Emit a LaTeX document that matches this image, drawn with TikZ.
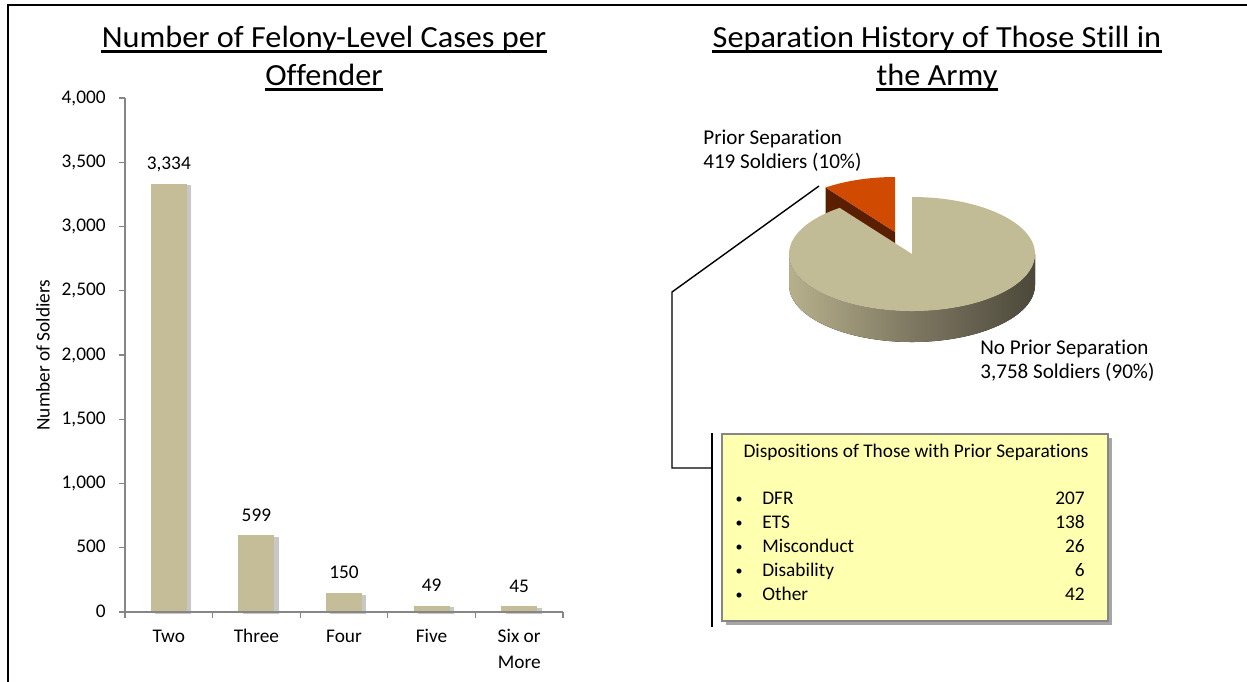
\documentclass[tikz,border=0pt]{standalone}
\usepackage{fontspec}
\setmainfont{Carlito}[Ligatures=NoCommon]
\usetikzlibrary{calc,shadows}
\definecolor{barfill}{HTML}{C4BD97}
\definecolor{axisgray}{HTML}{868686}
\definecolor{pietop}{HTML}{C2BC96}
\definecolor{sideL}{HTML}{B7B08C}
\definecolor{sideM}{HTML}{7E7862}
\definecolor{sideR}{HTML}{4C483A}
\definecolor{orangetop}{HTML}{D04A02}
\definecolor{orangeside}{HTML}{5A1E00}
\definecolor{notefill}{HTML}{FFFFB0}
\begin{document}
\begin{tikzpicture}[x=0.02cm,y=-0.02cm,
  lab/.style={font=\fontsize{11}{13}\selectfont, inner sep=0pt, text=black},
  plab/.style={font=\fontsize{12}{13.6}\selectfont, inner sep=0pt, align=left, text=black},
  ttl/.style={font=\fontsize{17.5}{20}\selectfont, inner sep=0pt, anchor=base, text=black, xscale=1.05, transform shape},
  uline/.style={line width=1.2pt, black},
  axis/.style={axisgray, line width=0.6pt},
  barstyle/.style={fill=barfill, drop shadow={shadow xshift=2.5pt, shadow yshift=-1pt, opacity=0.22, fill=black}},
  leader/.style={black, line width=0.8pt},
  notebox/.style={draw=axisgray, line width=0.6pt, fill=notefill, drop shadow={shadow xshift=2.5pt, shadow yshift=-2.5pt, opacity=0.35, fill=black}}
]
\useasboundingbox (0,0) rectangle (1247,681);
\fill[white] (0,0) rectangle (1247,681);
% frame
\draw[line width=1.4pt] (8,700) -- (8,5) -- (1260,5);

% ---------- titles ----------
\node[ttl] (t1) at (324,47) {Number of Felony-Level Cases per};
\node[ttl] (t2) at (324,85) {Offender};
\node[ttl] (t3) at (937,47) {Separation History of Those Still in};
\node[ttl] (t4) at (937,85) {the Army};
\foreach \n in {t1,t2,t3,t4}
  \draw[uline] ($(\n.base west)+(0,4.5)$) -- ($(\n.base east)+(0,4.5)$);

% ---------- bar chart ----------
\foreach \v/\t [count=\i from 0] in {3334/{3,334},599/599,150/150,49/49,45/45} {
  \pgfmathsetmacro\cx{125+87.6*(\i+0.5)}
  \pgfmathsetmacro\bt{612-\v/4000*514}
  \fill[barstyle] (\cx-18,\bt) rectangle (\cx+18,612);
  \node[lab,anchor=base] (val\i) at (\cx,\bt-14) {\t};
}
\draw[axis] (125,98) -- (125,612) -- (563,612);
\foreach \k/\t in {0/0,1/500,2/{1,000},3/{1,500},4/{2,000},5/{2,500},6/{3,000},7/{3,500},8/{4,000}} {
  \pgfmathsetmacro\yy{612-64.25*\k}
  \draw[axis] (119,\yy) -- (125,\yy);
  \node[lab,anchor=base east] (ylab\k) at (106,\yy+5) {\t};
}
\foreach \i in {0,...,5} {
  \draw[axis] (125+87.6*\i,612) -- (125+87.6*\i,618);
}
\foreach \c/\t [count=\i from 0] in {Two/Two,Three/Three,Four/Four,Five/Five,Six/{Six or}} {
  \node[lab,anchor=base] (cat\i) at (125+87.6*\i+43.8,642) {\t};
}
\node[lab,anchor=base] (cat5) at (519.2,668) {More};
\node[lab,rotate=90] (ytitle) at (43,355) {Number of Soldiers};

% ---------- pie ----------
% exploded slice (orange)
\coordinate (oc) at (895,232);
\fill[orangeside] (oc) -- ++(234:118 and 55) -- ++(0,30) -- ($(oc)+(0,30)$) -- cycle;
\fill[orangetop] (oc) -- ++(234:118 and 55) arc[start angle=234, end angle=270, x radius=118, y radius=55] -- cycle;
% main slice (gray)
\coordinate (pc) at (912,254);
\fill[left color=sideL, right color=sideR, middle color=sideM]
  (789,254) -- (789,285) arc[start angle=180, end angle=0, x radius=123, y radius=57]
  -- (1035,254) arc[start angle=0, end angle=180, x radius=123, y radius=57] -- cycle;
\fill[pietop] (pc) -- ++(-90:123 and 57) arc[start angle=-90, end angle=234, x radius=123, y radius=57] -- cycle;

\node[plab,anchor=west] (lprior) at (703,151) {Prior Separation\\419 Soldiers (10\%)};
\node[plab,anchor=west] (lnoprior) at (980,361) {No Prior Separation\\3,758 Soldiers (90\%)};

% ---------- leader and note ----------
\coordinate (ld1) at (819,186);
\coordinate (ld2) at (672,292);
\coordinate (ld3) at (672,468);
\coordinate (ld4) at (712,468);
\coordinate (br1) at (712,433);
\coordinate (br2) at (712,627);
\draw[leader] (ld1) -- (ld2) -- (ld3) -- (ld4);
\draw[leader] (br1) -- (br2);

\path[notebox] (722,434) rectangle (1108,621);
\node[lab] (ntitle) at (916,452) {Dispositions of Those with Prior Separations};
\foreach \t/\n [count=\i from 0] in {DFR/207,ETS/138,Misconduct/26,Disability/6,Other/42} {
  \node[lab,anchor=base,font=\fontsize{8}{10}\selectfont] (bul\i) at (739,503+24*\i) {•};
  \node[lab,anchor=base west] (item\i) at (762,504+24*\i) {\t};
  \node[lab,anchor=base east] (num\i) at (1085,504+24*\i) {\n};
}
\end{tikzpicture}
\end{document}
